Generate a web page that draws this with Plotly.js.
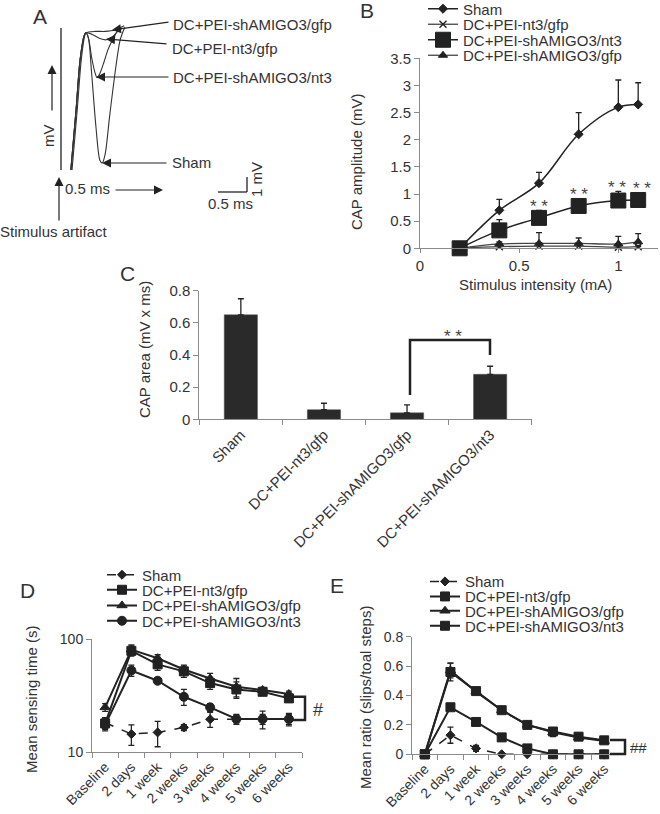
<!DOCTYPE html>
<html><head><meta charset="utf-8">
<script src="https://cdn.plot.ly/plotly-3.0.1.min.js"></script>
<style>html,body{margin:0;padding:0;background:#fff}#chart{width:660px;height:814px}</style>
</head><body><div id="chart"></div>
<script>
// ---------------- DATA ----------------
// Panel A: representative CAP traces (time in ms, voltage in mV)
const A_sham_t   = [0.19,0.28,0.35,0.41,0.43,0.47,0.53,0.60,0.67,0.71,0.76,0.84,0.95,1.02,1.10];
const A_sham_v   = [0,4.3,7.9,9.6,9.8,9.5,6.8,3.2,0.7,0.5,1.1,3.9,7.5,9.3,10.2];
const A_shnt3_t  = [0.17,0.26,0.33,0.40,0.43,0.48,0.53,0.59,0.62,0.67,0.74,0.81,0.90,0.98];
const A_shnt3_v  = [0,4.3,7.9,9.6,9.8,9.3,8.0,6.9,6.6,6.9,7.7,8.6,9.4,10.0];
const A_nt3gfp_t = [0.17,0.26,0.33,0.40,0.43,0.53,0.67,0.78,0.88,0.98,1.05];
const A_nt3gfp_v = [0,4.3,7.9,9.6,9.8,9.7,9.4,9.3,9.5,9.9,10.1];
const A_shgfp_t  = [0.17,0.26,0.33,0.40,0.43,0.59,0.76,0.93,1.09];
const A_shgfp_v  = [0,4.3,7.9,9.6,9.8,9.9,9.9,10.0,10.3];

// Panel B: CAP amplitude vs stimulus intensity
const B_intensity  = [0.2,0.4,0.6,0.8,1.0,1.1];
const B_sham       = [0,0.70,1.20,2.10,2.60,2.65];
const B_sham_err   = [0,0.20,0.20,0.40,0.50,0.40];
const B_nt3gfp     = [0,0.03,0.04,0.04,0.02,0.03];
const B_nt3gfp_err = [0,0.02,0.03,0.03,0.03,0.02];
const B_shnt3      = [0,0.33,0.56,0.78,0.88,0.89];
const B_shnt3_err  = [0,0.20,0.14,0.13,0.17,0.13];
const B_shgfp      = [0,0.08,0.09,0.09,0.08,0.12];
const B_shgfp_err  = [0,0.04,0.20,0.10,0.14,0.15];
const B_star_idx   = [2,3,4,5];

// Panel C: CAP area
const C_groups = ['Sham','DC+PEI-nt3/gfp','DC+PEI-shAMIGO3/gfp','DC+PEI-shAMIGO3/nt3'];
const C_area   = [0.65,0.06,0.04,0.28];
const C_err    = [0.10,0.04,0.05,0.05];

// Panels D & E: time course
const timepoints = ['Baseline','2 days','1 week','2 weeks','3 weeks','4 weeks','5 weeks','6 weeks'];
const D_sham       = [18.3,14.5,15.0,16.6,19.6,19.7,19.6,19.6];
const D_sham_err   = [2,3,3.8,1,3,1.5,3.5,2.5];
const D_nt3gfp     = [18,79,60,52,41,36,34.3,30];
const D_nt3gfp_err = [2,8,7,6,5,6,2,2];
const D_shgfp      = [25,81,68,54,45,38,35.6,32.8];
const D_shgfp_err  = [2,8,5,5,5,7,2,2];
const D_shnt3      = [17.5,53,43,31,25,19.7,19.7,19.7];
const D_shnt3_err  = [2,6,2,5,2,2,2,2];

const E_sham       = [0,0.13,0.04,0,0,0,0,0];
const E_sham_err   = [0,0.055,0.02,0,0,0,0,0];
const E_nt3gfp     = [0,0.56,0.43,0.30,0.20,0.155,0.12,0.095];
const E_nt3gfp_err = [0,0.06,0.01,0.015,0.015,0.025,0.01,0.01];
const E_shgfp      = [0,0.57,0.425,0.30,0.20,0.15,0.115,0.09];
const E_shgfp_err  = [0,0.05,0.01,0.01,0.01,0.03,0.01,0.01];
const E_shnt3      = [0,0.32,0.22,0.115,0.04,0,0,0];
const E_shnt3_err  = [0,0.02,0.02,0.02,0.015,0,0,0];

// ---------------- LAYOUT HELPERS ----------------
const W = 660, H = 814;
const px = x => x / W;
const py = y => 1 - y / H;
const FONT = 'Liberation Sans, Arial, Helvetica, sans-serif';
const INK = '#222';
const TXT = '#333';
const AXC = '#8a8a8a';
const aMs = x => (x - 61) / 58;   // panel A pixel -> ms
const aMv = y => (170 - y) / 14;  // panel A pixel -> mV
const zeros = n => new Array(n).fill(0);

function errPlus(arr){ return {type:'data', array:arr, arrayminus:zeros(arr.length), symmetric:false, color:INK, thickness:1.3, width:3}; }
function errSym(arr){ return {type:'data', array:arr, symmetric:true, color:INK, thickness:1.3, width:3}; }

function ser(x, y, name, xa, ya, leg, marker, line, err){
  return {type:'scatter', mode:'lines+markers', x, y, name, xaxis:xa, yaxis:ya, legend:leg,
    marker:Object.assign({color:INK, line:{color:INK, width:1}}, marker),
    line:Object.assign({color:INK, width:1.5}, line),
    error_y:err, cliponaxis:false};
}

const traces = [];
// Panel A traces
[[A_shgfp_t,A_shgfp_v],[A_nt3gfp_t,A_nt3gfp_v],[A_shnt3_t,A_shnt3_v],[A_sham_t,A_sham_v]].forEach(p=>{
  traces.push({type:'scatter', mode:'lines', x:p[0], y:p[1], xaxis:'x5', yaxis:'y5', showlegend:false,
    line:{color:'#333', width:1.1, shape:'spline', smoothing:0.8}, hoverinfo:'skip', cliponaxis:false});
});
// Panel B traces
traces.push(ser(B_intensity, B_shgfp, 'DC+PEI-shAMIGO3/gfp', 'x','y','legend4', {symbol:'triangle-up', size:8}, {shape:'spline', width:1.3, color:'#444'}, errPlus(B_shgfp_err)));
traces.push(ser(B_intensity, B_nt3gfp, 'DC+PEI-nt3/gfp', 'x','y','legend2', {symbol:'x-thin', size:7, line:{color:INK,width:1.4}}, {shape:'spline', width:1.3, color:'#444'}, errPlus(B_nt3gfp_err)));
traces.push(ser(B_intensity, B_shnt3, 'DC+PEI-shAMIGO3/nt3', 'x','y','legend3', {symbol:'square', size:15}, {shape:'spline', width:1.5}, errPlus(B_shnt3_err)));
traces.push(ser(B_intensity, B_sham, 'Sham', 'x','y','legend', {symbol:'diamond', size:7}, {shape:'spline', width:1.5}, errPlus(B_sham_err)));
// Panel C
traces.push({type:'bar', x:C_groups, y:C_area, xaxis:'x2', yaxis:'y2', showlegend:false, width:0.4,
  marker:{color:'#2a2a2a', line:{color:'#555', width:0.5}}, error_y:errPlus(C_err)});
// Panel D
traces.push(ser(timepoints, D_sham, 'Sham', 'x3','y3','legend5', {symbol:'diamond', size:7}, {dash:'dash', width:1.5}, errSym(D_sham_err)));
traces.push(ser(timepoints, D_nt3gfp, 'DC+PEI-nt3/gfp', 'x3','y3','legend6', {symbol:'square', size:9}, {width:2}, errSym(D_nt3gfp_err)));
traces.push(ser(timepoints, D_shgfp, 'DC+PEI-shAMIGO3/gfp', 'x3','y3','legend7', {symbol:'triangle-up', size:9}, {width:2}, errSym(D_shgfp_err)));
traces.push(ser(timepoints, D_shnt3, 'DC+PEI-shAMIGO3/nt3', 'x3','y3','legend8', {symbol:'circle', size:9}, {width:2}, errSym(D_shnt3_err)));
// Panel E
traces.push(ser(timepoints, E_sham, 'Sham', 'x4','y4','legend9', {symbol:'diamond', size:7}, {dash:'dash', width:1.5}, errSym(E_sham_err)));
traces.push(ser(timepoints, E_nt3gfp, 'DC+PEI-nt3/gfp', 'x4','y4','legend10', {symbol:'square', size:9}, {width:2}, errSym(E_nt3gfp_err)));
traces.push(ser(timepoints, E_shgfp, 'DC+PEI-shAMIGO3/gfp', 'x4','y4','legend11', {symbol:'triangle-up', size:9}, {width:2}, errSym(E_shgfp_err)));
traces.push(ser(timepoints, E_shnt3, 'DC+PEI-shAMIGO3/nt3', 'x4','y4','legend12', {symbol:'square', size:9}, {width:2}, errSym(E_shnt3_err)));

// ---------------- AXES ----------------
function baseAxis(extra){
  return Object.assign({showgrid:false, zeroline:false, showline:true, linecolor:AXC, linewidth:1,
    ticks:'outside', ticklen:5, tickcolor:AXC, tickwidth:1,
    tickfont:{family:FONT, size:15, color:TXT}, fixedrange:true}, extra);
}
const layout = {
  width:W, height:H, margin:{l:0,r:0,t:0,b:0,autoexpand:false},
  paper_bgcolor:'#fff', plot_bgcolor:'rgba(0,0,0,0)',
  font:{family:FONT, color:TXT},
  // Panel B
  xaxis: baseAxis({domain:[px(420), px(658)], anchor:'y', range:[0,1.2], tickvals:[0,0.5,1], ticktext:['0','0.5','1'], ticklen:4}),
  yaxis: baseAxis({domain:[py(248.3), py(58.3)], anchor:'x', range:[0,3.5], dtick:0.5, tick0:0}),
  // Panel C
  xaxis2: baseAxis({domain:[px(199.3), px(531.7)], anchor:'y2', type:'category', range:[-0.5,3.5], tickson:'boundaries', tickangle:-45}),
  yaxis2: baseAxis({domain:[py(419.3), py(290.7)], anchor:'x2', range:[0,0.8], dtick:0.2, tick0:0}),
  // Panel D
  xaxis3: baseAxis({domain:[px(92), px(302)], anchor:'y3', type:'category', range:[-0.5,7.5], tickson:'boundaries', tickangle:-45, tickfont:{family:FONT,size:14,color:TXT}}),
  yaxis3: baseAxis({domain:[py(752.3), py(639.3)], anchor:'x3', type:'log', range:[1,2], tickvals:[10,100], ticktext:['10','100'], tickfont:{family:FONT,size:14,color:TXT}}),
  // Panel E
  xaxis4: baseAxis({domain:[px(412), px(617)], anchor:'y4', type:'category', range:[-0.5,7.5], tickson:'boundaries', tickangle:-45, tickfont:{family:FONT,size:14,color:TXT}}),
  yaxis4: baseAxis({domain:[py(754.3), py(636.7)], anchor:'x4', range:[0,0.8], dtick:0.2, tick0:0, tickfont:{family:FONT,size:14,color:TXT}}),
  // Panel A (hidden frame in ms / mV)
  xaxis5: {domain:[0,0.5], anchor:'y5', range:[aMs(0), aMs(330)], visible:false, fixedrange:true},
  yaxis5: {domain:[py(220),1], anchor:'x5', range:[aMv(220), aMv(0)], visible:false, fixedrange:true},
  showlegend:true,
  shapes:[], annotations:[]
};

// legends: one entry each, placed individually
function leg(x, y){
  return {x:px(x), y:py(y), xanchor:'left', yanchor:'middle', bgcolor:'rgba(0,0,0,0)', borderwidth:0,
    font:{family:FONT, size:15, color:TXT}, itemclick:false, itemdoubleclick:false};
}
const legB = [9, 24.5, 40, 55.5], legD = [575, 590, 605.7, 621], legE = [581.7, 596.7, 611, 626];
layout.legend  = leg(423, legB[0]); layout.legend2 = leg(423, legB[1]);
layout.legend3 = leg(423, legB[2]); layout.legend4 = leg(423, legB[3]);
layout.legend5 = leg(102, legD[0]); layout.legend6 = leg(102, legD[1]);
layout.legend7 = leg(102, legD[2]); layout.legend8 = leg(102, legD[3]);
layout.legend9 = leg(425, legE[0]); layout.legend10 = leg(425, legE[1]);
layout.legend11 = leg(425, legE[2]); layout.legend12 = leg(425, legE[3]);

const ann = layout.annotations, shp = layout.shapes;
function txt(x, y, text, size, extra){
  ann.push(Object.assign({xref:'paper', yref:'paper', x:px(x), y:py(y), text, showarrow:false,
    font:{family:FONT, size, color:TXT}, xanchor:'center', yanchor:'middle'}, extra||{}));
}
function arrowA(tx, ty, hx, hy){
  ann.push({xref:'x5', yref:'y5', axref:'x5', ayref:'y5', x:aMs(hx), y:aMv(hy), ax:aMs(tx), ay:aMv(ty),
    text:'', showarrow:true, arrowhead:2, arrowsize:1.5, arrowwidth:1.2, arrowcolor:INK, standoff:0, startstandoff:0});
}
function bracket(pts){
  let d = 'M ' + pts.map(p => px(p[0]) + ',' + py(p[1])).join(' L ');
  shp.push({type:'path', xref:'paper', yref:'paper', path:d, line:{color:INK, width:2.5}});
}

// Panel letters
txt(40, 16, 'A', 21); txt(367, 11, 'B', 21); txt(127, 274, 'C', 21); txt(27, 590, 'D', 21); txt(337, 585, 'E', 21);

// Panel A decorations
shp.push({type:'line', xref:'x5', yref:'y5', x0:0, x1:0, y0:aMv(28), y1:aMv(170), line:{color:INK, width:1.3}});
arrowA(170, 22, 112, 30);
arrowA(168, 44, 106, 39);
arrowA(170, 77, 96, 77);
arrowA(168, 163, 102, 163);
arrowA(52, 112, 52, 65);
arrowA(114, 190, 163, 190);
arrowA(59, 222, 59, 177);
shp.push({type:'line', xref:'x5', yref:'y5', x0:aMs(218), x1:aMs(247), y0:aMv(192), y1:aMv(192), line:{color:INK, width:1.3}});
shp.push({type:'line', xref:'x5', yref:'y5', x0:aMs(247), x1:aMs(247), y0:aMv(192), y1:aMv(177), line:{color:INK, width:1.3}});
txt(171, 25, 'DC+PEI-shAMIGO3/gfp', 15, {xanchor:'left'});
txt(170, 49, 'DC+PEI-nt3/gfp', 15, {xanchor:'left'});
txt(171, 77.5, 'DC+PEI-shAMIGO3/nt3', 15, {xanchor:'left'});
txt(170, 163, 'Sham', 15, {xanchor:'left'});
txt(48, 136, 'mV', 15, {textangle:-90});
txt(63, 188, '0.5 ms', 15, {xanchor:'left'});
txt(230, 204, '0.5 ms', 15);
txt(257, 180, '1 mV', 15, {textangle:-90});
txt(54, 231, 'Stimulus artifact', 15);

// Panel B titles and significance marks
txt(356, 162, 'CAP amplitude (mV)', 15, {textangle:-90});
txt(535, 284, 'Stimulus intensity (mA)', 15);
const starShift = [0, 0, -1, 4];
B_star_idx.forEach((i, k) => {
  ann.push({xref:'x', yref:'y', x:B_intensity[i], y:B_shnt3[i] + B_shnt3_err[i] + 0.15, text:'* *', showarrow:false,
    font:{family:FONT, size:17, color:'#444'}, xanchor:'center', yanchor:'middle', yshift:-4, xshift:starShift[k]});
});

// Panel C
txt(145, 350, 'CAP area (mV x ms)', 15, {textangle:-90});
bracket([[410,395],[410,340],[490,340],[490,355]]);
txt(453, 336, '* *', 17, {font:{family:FONT,size:17,color:'#444'}});

// Panel D
txt(31, 699, 'Mean sensing time (s)', 15, {textangle:-90});
bracket([[293,696.7],[305,696.7],[305,720],[293,720]]);
txt(318, 710, '#', 18);

// Panel E
txt(365, 697, 'Mean ratio (slips/toal steps)', 15, {textangle:-90});
bracket([[610,740],[625,740],[625,754],[610,754]]);
txt(638, 747, '##', 15);

Plotly.newPlot('chart', traces, layout, {staticPlot:true, displayModeBar:false});
</script>
</body></html>
